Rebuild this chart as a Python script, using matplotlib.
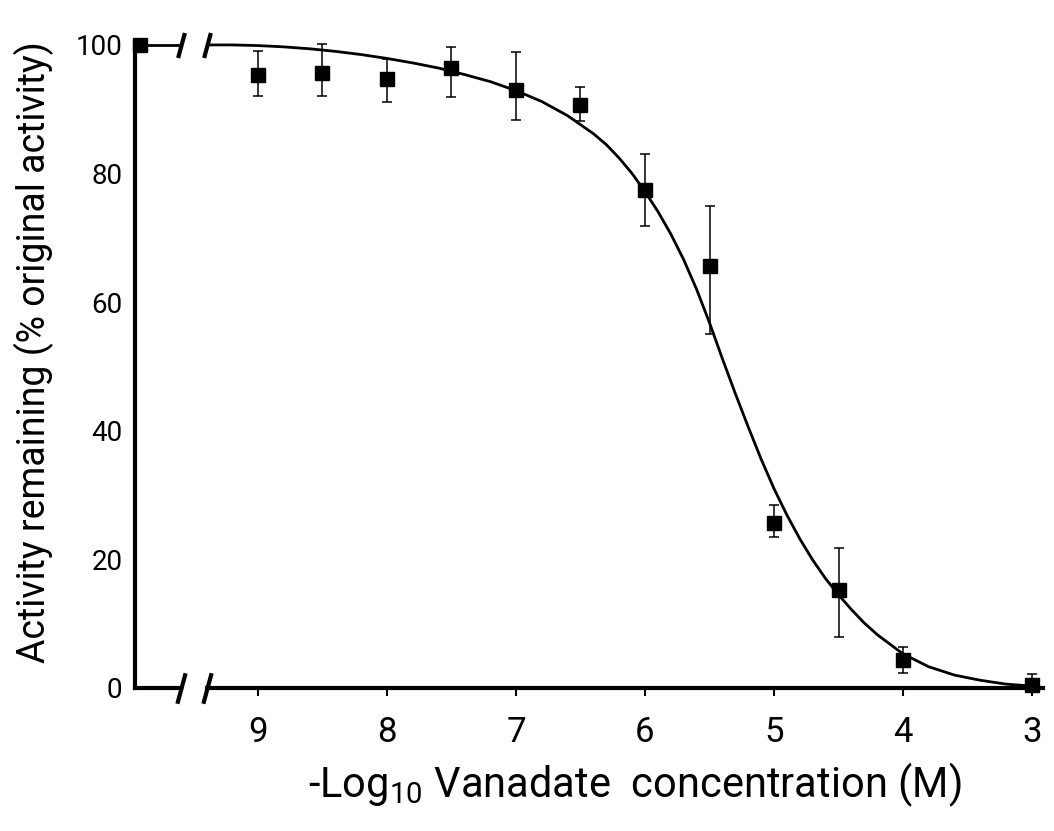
import matplotlib
matplotlib.use('Agg')
from matplotlib import pyplot as plt
import numpy as np

plt.rcParams['font.family'] = ['Roboto', 'DejaVu Sans']
plt.rcParams['mathtext.fontset'] = 'custom'
plt.rcParams['mathtext.rm'] = 'Roboto'
plt.rcParams['mathtext.default'] = 'regular'

##############################################################################
# activity with no vanadate added (control)
ctrl_act = 100.0

# -log10 [vanadate] (M) vs activity remaining (% of control), error bar limits
neg_log_v = [9.0, 8.5, 8.0, 7.5, 7.0, 6.5, 6.0, 5.5, 5.0, 4.5, 4.0, 3.0]
act    = [95.4, 95.7, 94.7, 96.4, 93.0, 90.7, 77.5, 65.7, 25.6, 15.3, 4.3, 0.5]
act_hi = [99.1, 100.2, 97.8, 99.7, 98.9, 93.4, 83.0, 74.9, 28.4, 21.8, 6.3, 2.2]
act_lo = [92.1, 92.0, 91.2, 91.9, 88.3, 88.1, 71.8, 55.0, 23.5, 8.0, 2.4, -0.3]

# fitted inhibition curve
fit_x = [9.39, 9.2, 9.0, 8.8, 8.6, 8.4, 8.2, 8.0, 7.8, 7.6, 7.4, 7.2, 7.0,
         6.8, 6.6, 6.4, 6.3, 6.2, 6.1, 6.0, 5.9, 5.8, 5.7, 5.6, 5.5, 5.4,
         5.3, 5.2, 5.1, 5.0, 4.9, 4.8, 4.7, 4.6, 4.5, 4.4, 4.3, 4.2, 4.0,
         3.8, 3.6, 3.4, 3.2, 3.0]
fit_y = [100.0, 100.0, 99.9, 99.7, 99.4, 99.0, 98.5, 97.9, 97.2, 96.4, 95.4,
         94.3, 92.9, 91.2, 89.0, 86.2, 84.5, 82.4, 80.0, 77.2, 74.1, 70.6,
         66.6, 62.0, 56.8, 51.2, 45.8, 40.6, 35.6, 31.0, 26.9, 23.2, 19.9,
         17.0, 14.5, 12.2, 10.1, 8.3, 5.3, 3.3, 2.0, 1.2, 0.6, 0.3]

xticks = [9, 8, 7, 6, 5, 4, 3]
yticks = [0, 20, 40, 60, 80, 100]
##############################################################################

W, H = 1054, 831
fig = plt.figure(figsize=(W/100, H/100), dpi=100)
# narrow panel for the control point, then the broken-off main axis
ax0 = fig.add_axes([135/W, 143/H, 46/W, 645/H])
ax1 = fig.add_axes([207/W, 143/H, 836/W, 645/H])

for ax in (ax0, ax1):
    ax.set_ylim(0, 100.3)
    ax.spines['top'].set_visible(False)
    ax.spines['right'].set_visible(False)
    ax.spines['bottom'].set_linewidth(3)
    ax.spines['left'].set_linewidth(3)

# control panel
ax0.set_xlim(0, 1)
ax0.set_xticks([])
ax0.set_yticks(yticks)
ax0.tick_params(axis='y', length=0, pad=9, labelsize=20)
ax0.axhline(ctrl_act, color='k', lw=2)
ax0.plot([0.11], [ctrl_act], 's', ms=10, color='k', clip_on=False)
ax0.set_ylabel('Activity remaining (% original activity)', fontsize=27)
ax0.yaxis.set_label_coords(-1.76, 0.52)

# main panel
ax1.spines['left'].set_visible(False)
ax1.set_xlim(9.395, 2.915)
ax1.set_yticks([])
ax1.set_xticks(xticks)
ax1.tick_params(axis='x', length=6, width=1.5, pad=14, labelsize=25)

ax1.plot(fit_x, fit_y, 'k-', lw=2, clip_on=False)
eb = ax1.errorbar(neg_log_v, act,
                  yerr=[np.subtract(act, act_lo), np.subtract(act_hi, act)],
                  fmt='s', ms=10, color='k', ecolor='k', elinewidth=1.1,
                  capsize=3.6, capthick=1.1)
for a in eb.get_children():
    a.set_clip_on(False)

ax1.set_xlabel(r'-Log$_{10}$ Vanadate  concentration (M)', fontsize=30)
ax1.xaxis.set_label_coords(0.512, -0.112)

# axis break marks
brk = [(-0.27, -1), (0.27, 1)]
kw = dict(marker=brk, linestyle='none', color='k', mec='k', mew=3,
          clip_on=False)
ax0.plot([1], [0], transform=ax0.transAxes, markersize=22, **kw)
ax1.plot([0], [0], transform=ax1.transAxes, markersize=22, **kw)
ax0.plot([1], [ctrl_act], transform=ax0.get_yaxis_transform(),
         markersize=18, **kw)
ax1.plot([0], [fit_y[0]], transform=ax1.get_yaxis_transform(),
         markersize=18, **kw)

plt.savefig('out.png', dpi=100)
